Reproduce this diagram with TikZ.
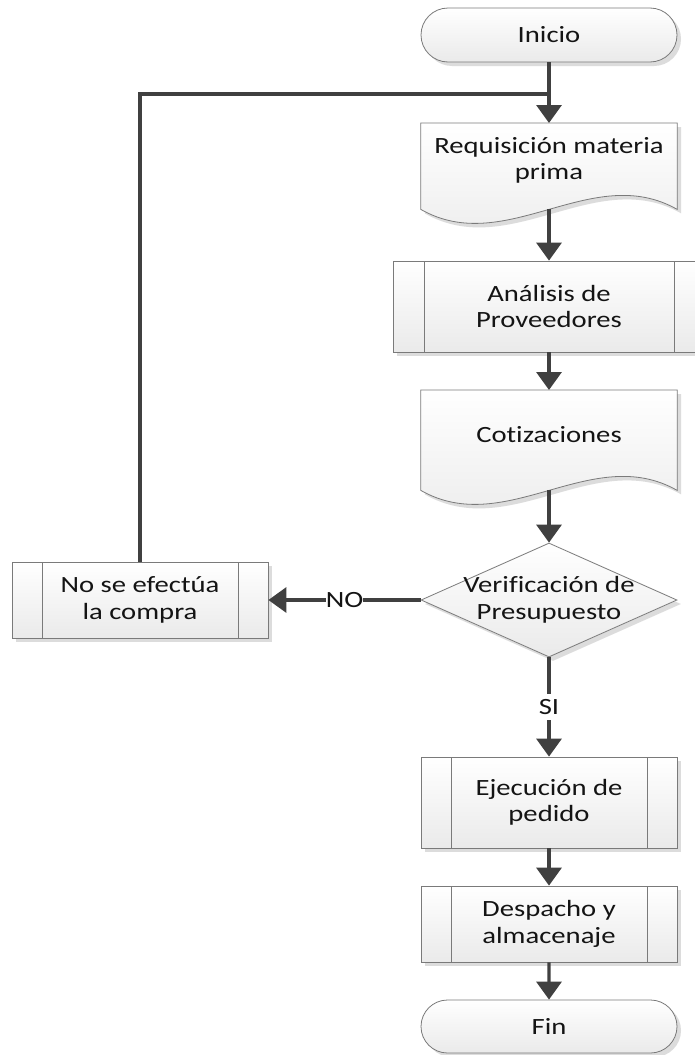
\documentclass[tikz,border=0pt]{standalone}
\usepackage{fontspec}
\setmainfont{Carlito}[FakeStretch=1.23, Ligatures=NoCommon]
\usetikzlibrary{shapes.geometric,shapes.misc,arrows.meta,shadows,calc}

\pgfdeclarelayer{background}
\pgfsetlayers{background,main}

\definecolor{linegray}{HTML}{404040}
\definecolor{edgegray}{HTML}{7A7A7A}
\definecolor{fillbot}{HTML}{EAEAEA}
\definecolor{shadowgray}{HTML}{DCDCDC}
\definecolor{inkblack}{HTML}{141414}

\tikzset{
  every node/.style={font=\fontsize{23.3}{26.5}\selectfont, text=inkblack},
  shapefill/.style={draw=edgegray, line width=0.8pt, top color=white, bottom color=fillbot,
    drop shadow={shadow xshift=4pt, shadow yshift=-4pt, fill=shadowgray, opacity=1}},
  terminal/.style={shapefill, rounded rectangle, minimum width=256pt, minimum height=54pt,
    inner sep=0pt, align=center},
  procbox/.style={shapefill, rectangle, minimum width=256pt, inner sep=0pt, align=center,
    path picture={\draw[edgegray, line width=0.8pt]
      ([xshift=#1]path picture bounding box.north west) -- ([xshift=#1]path picture bounding box.south west)
      ([xshift=-#1]path picture bounding box.north east) -- ([xshift=-#1]path picture bounding box.south east);}},
  procbox/.default=30pt,
  docbox/.style={rectangle, minimum width=256pt, inner sep=0pt, align=center},
  decision/.style={shapefill, diamond, minimum width=256pt, minimum height=114pt, inner sep=0pt},
  conn/.style={draw=linegray, line width=3.3pt, -{Triangle[length=18pt,width=25pt]}},
  plainline/.style={draw=linegray, line width=3.3pt},
  flowlabel/.style={fill=white, inner xsep=0pt, inner ysep=5pt},
}

\begin{document}
\begin{tikzpicture}[x=1pt, y=1pt]
  \useasboundingbox (0,0) rectangle (694,-1055);
  \begin{pgfonlayer}{background}
    \fill[white] (0,0) rectangle (694,-1055);
  \end{pgfonlayer}

  % flow steps
  \node[terminal] (ini) at (549,-35) {Inicio};
  \node[docbox, minimum height=74pt, anchor=north] (req) at (549,-123) {Requisición materia\\prima};
  \node[procbox=31pt, minimum width=312pt, minimum height=91pt] (ana) at (549,-306.5) {Análisis de\\Proveedores};
  \node[docbox, minimum height=88pt, anchor=north] (cot) at (549,-390) {Cotizaciones};
  \node[decision] (ver) at (549,-600) {};
  \node[align=center, inner sep=0pt] (vertxt) at (ver) {Verificación de\\Presupuesto};
  \node[procbox, minimum height=76pt] (nob) at (140,-600) {No se efectúa\\la compra};
  \node[procbox, minimum height=91pt] (eje) at (549,-802.5) {Ejecución de\\pedido};
  \node[procbox, minimum height=76pt] (des) at (549,-924) {Despacho y\\almacenaje};
  \node[terminal, minimum height=53pt] (fin) at (549,-1026.5) {Fin};

  % document shapes with a wavy lower edge
  \begin{pgfonlayer}{background}
    \foreach \d in {req,cot}{
      \path[shapefill] (\d.north west) -- (\d.north east) -- ([yshift=-12pt]\d.south east)
        .. controls +(-85.3,48.5) and +(85.3,-48.5) .. ([yshift=-12pt]\d.south west) -- cycle;
    }
  \end{pgfonlayer}

  % connectors
  \coordinate (jn) at (549,-94);
  \draw[conn] (ini) -- (req);
  \draw[conn] ([yshift=-12pt]req.south) -- (ana);
  \draw[conn] (ana) -- (cot);
  \draw[conn] ([yshift=-12pt]cot.south) -- (ver);
  \draw[conn] (ver) -- node[flowlabel] {NO} (nob);
  \draw[conn] (ver) -- node[flowlabel] {SI} (eje);
  \draw[conn] (eje) -- (des);
  \draw[conn] (des) -- (fin);
  \draw[plainline] (nob) |- (jn);
\end{tikzpicture}
\end{document}
